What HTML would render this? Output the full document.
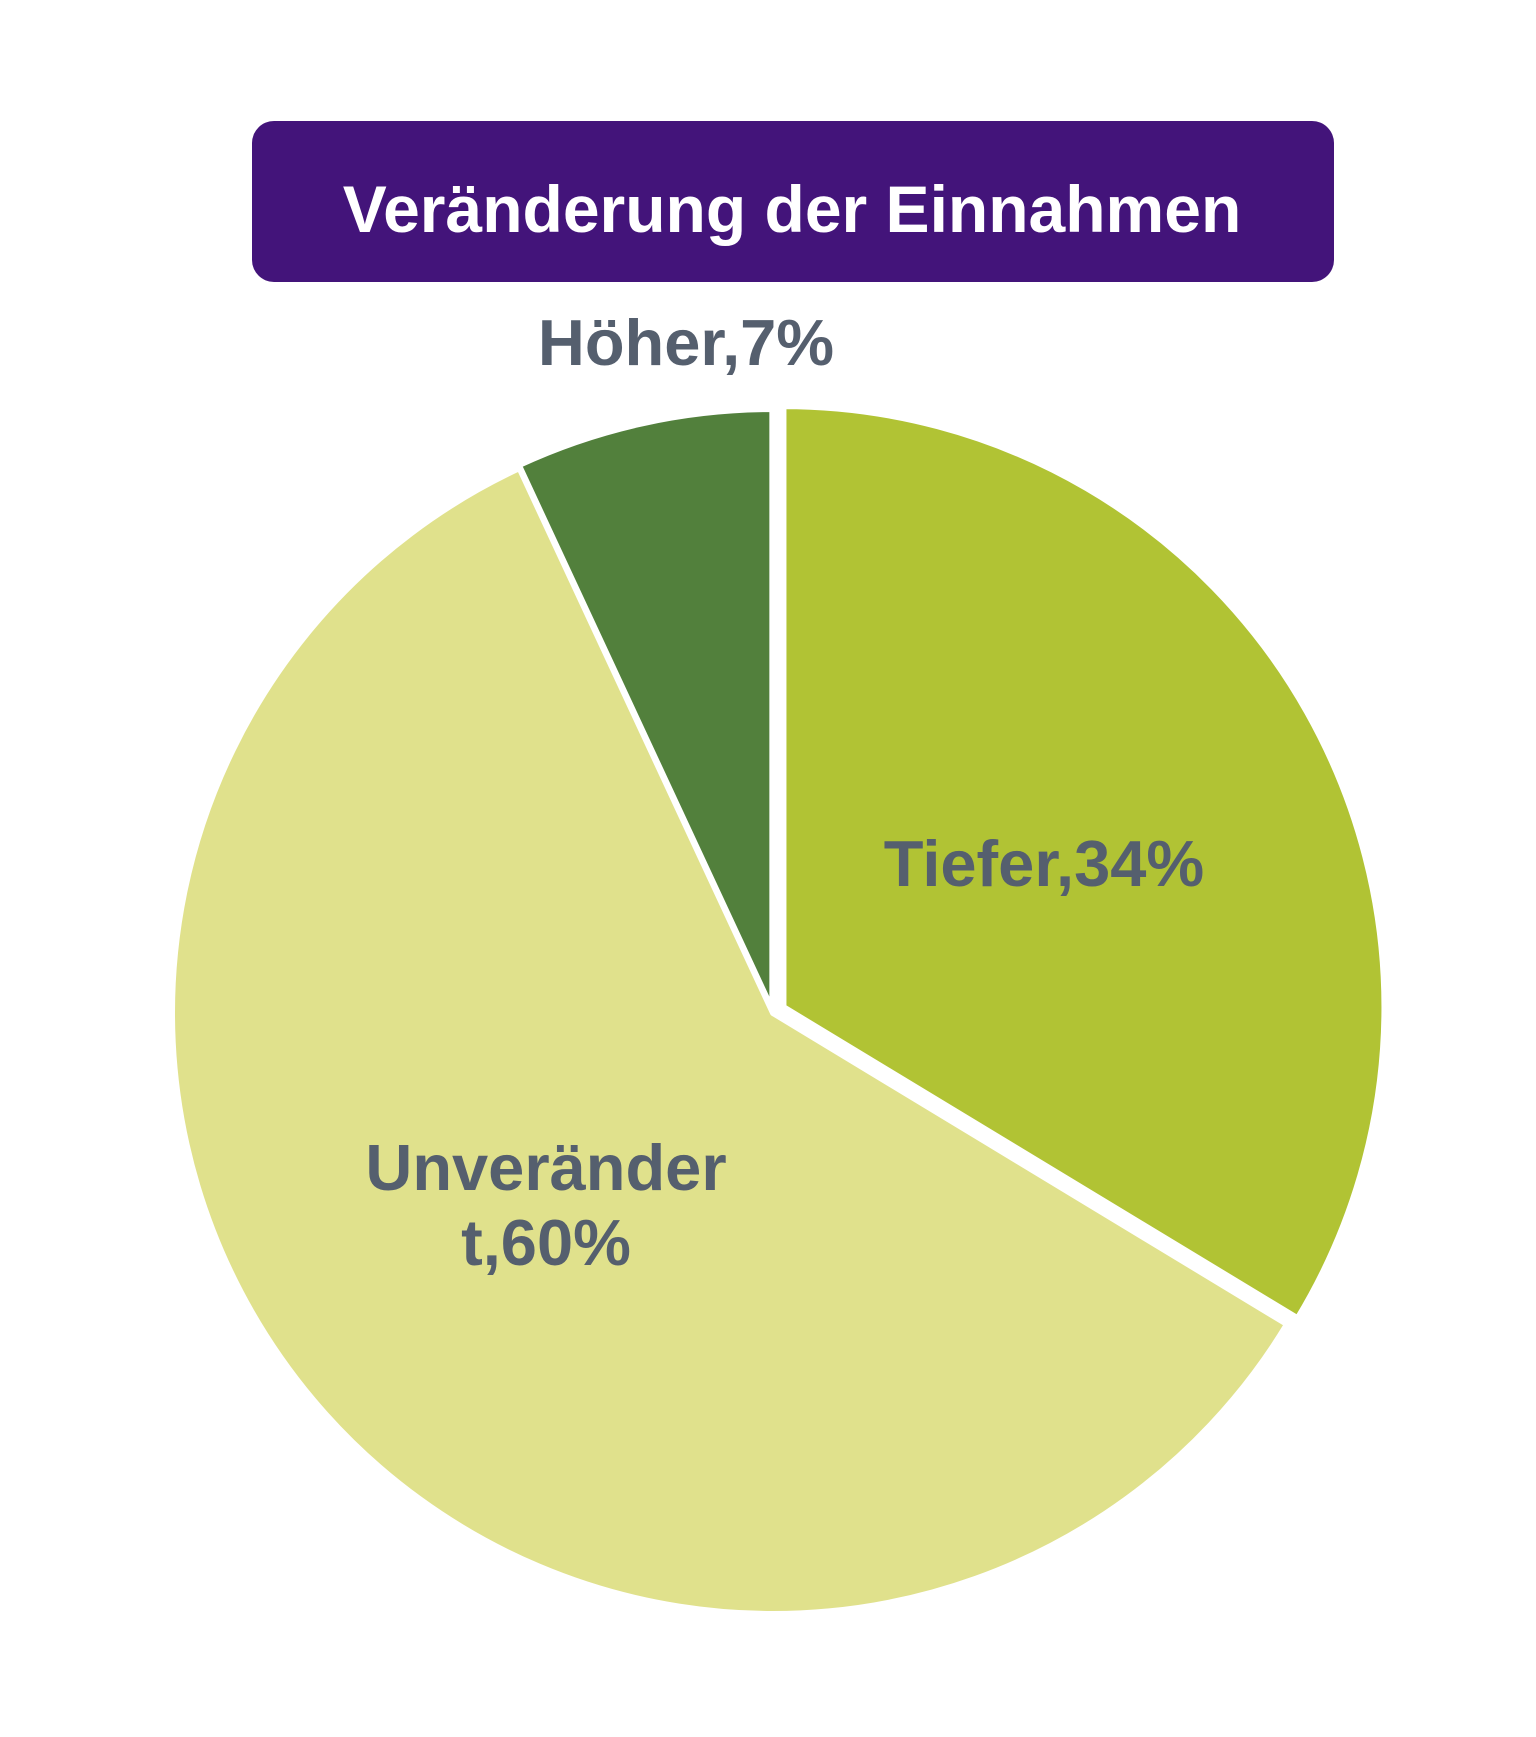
<!DOCTYPE html>
<html><head><meta charset="utf-8"><style>
body{margin:0;background:#fff;}
svg{display:block;}
</style></head><body>
<svg width="1536" height="1737" viewBox="0 0 1536 1737">
<rect x="252" y="121" width="1082" height="161" rx="22" fill="#43147a"/>
<text x="792" y="232" text-anchor="middle" font-family="'Liberation Sans',sans-serif" font-weight="bold" font-size="66" fill="#fff">Veränderung der Einnahmen</text>
<g id="slices"></g>
<g id="labels" font-family="'Liberation Sans',sans-serif" font-weight="bold" font-size="65" fill="#555f6e" text-anchor="middle"></g>
</svg>
<script>
const categories = ["Tiefer", "Unverändert", "Höher"];
const values = [34, 60, 7];
const labelText = [["Tiefer,34%"], ["Unveränder", "t,60%"], ["Höher,7%"]];
const colors = ["#b1c334", "#e0e18c", "#52803c"];
const explode = [12, 0, 3];
const cx = 773, cy = 1013, r = 601;
const NS = "http://www.w3.org/2000/svg";
const total = values.reduce((a, b) => a + b, 0);
const gS = document.getElementById("slices");
const gL = document.getElementById("labels");
const labelPos = [[1044, 886, 0], [546, 1190, 1], [686, 365, 2]];
let start = 0;
values.forEach((v, i) => {
  const a0 = start / total * 2 * Math.PI, a1 = (start + v) / total * 2 * Math.PI;
  start += v;
  const mid = (a0 + a1) / 2;
  const ox = cx + explode[i] * Math.sin(mid), oy = cy - explode[i] * Math.cos(mid);
  const x0 = ox + r * Math.sin(a0), y0 = oy - r * Math.cos(a0);
  const x1 = ox + r * Math.sin(a1), y1 = oy - r * Math.cos(a1);
  const large = (a1 - a0) > Math.PI ? 1 : 0;
  const p = document.createElementNS(NS, "path");
  p.setAttribute("d", `M${ox},${oy} L${x0},${y0} A${r},${r} 0 ${large} 1 ${x1},${y1} Z`);
  p.setAttribute("fill", colors[i]);
  p.setAttribute("stroke", "#fff");
  p.setAttribute("stroke-width", "6");
  p.setAttribute("stroke-linejoin", "round");
  
  
  gS.appendChild(p);
});
labelPos.forEach(([x, y, i]) => {
  labelText[i].forEach((line, k) => {
    const t = document.createElementNS(NS, "text");
    t.setAttribute("x", x);
    t.setAttribute("y", y + k * 75);
    t.textContent = line;
    
    
    gL.appendChild(t);
  });
});
</script>
</body></html>
